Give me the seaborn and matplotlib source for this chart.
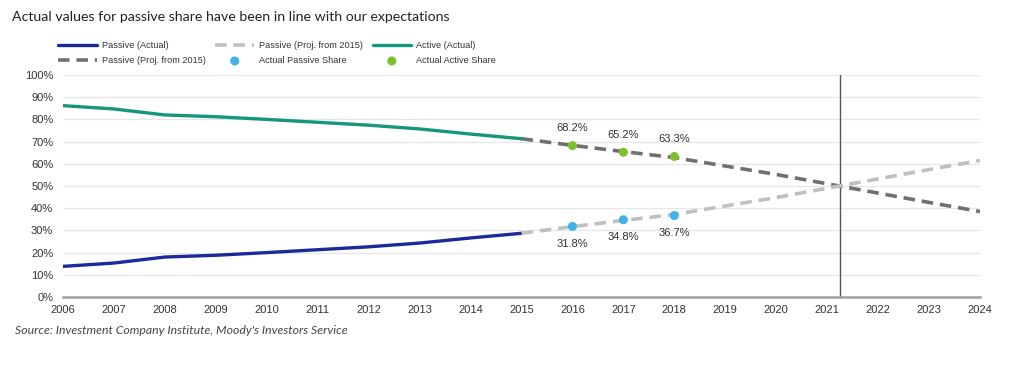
import numpy as np
import pandas as pd
import matplotlib
matplotlib.use("Agg")
import matplotlib.pyplot as plt
import seaborn as sns

# ---- data ----
years_actual = [2006, 2007, 2008, 2009, 2010, 2011, 2012, 2013, 2014, 2015]
passive_actual = [13.8, 15.3, 18.0, 18.8, 20.0, 21.3, 22.6, 24.3, 26.6, 28.7]
active_actual = [86.2, 84.7, 82.0, 81.2, 80.0, 78.7, 77.4, 75.7, 73.4, 71.3]

years_proj = [2015, 2016, 2017, 2018, 2019, 2020, 2021, 2022, 2023, 2024]
passive_proj = [28.7, 31.7, 34.5, 37.2, 41.0, 44.8, 49.0, 53.2, 57.4, 61.5]
active_proj = [71.3, 68.3, 65.5, 62.8, 59.0, 55.2, 51.0, 46.8, 42.6, 38.5]

years_points = [2016, 2017, 2018]
passive_share = [31.8, 34.8, 36.7]
active_share = [68.2, 65.2, 63.3]

crossover_year = 2021.25

title = "Actual values for passive share have been in line with our expectations"
source = "Source: Investment Company Institute, Moody's Investors Service"

# ---- style ----
sns.set_theme(style="white")
plt.rcParams["font.family"] = ["Liberation Sans", "DejaVu Sans"]

C_PASSIVE = "#1b2a9a"
C_ACTIVE = "#16967a"
C_LIGHT = "#c0c0c0"
C_DARK = "#707070"
C_PPTS = "#3fb3e8"
C_APTS = "#7bc12c"
TXT = "#333333"

fig = plt.figure(figsize=(10.24, 3.74), dpi=100)
ax = fig.add_axes([63 / 1024, 77 / 374, (980 - 63) / 1024, (297 - 75) / 374])

df_act = pd.DataFrame({"year": years_actual, "passive": passive_actual, "active": active_actual})
df_proj = pd.DataFrame({"year": years_proj, "passive": passive_proj, "active": active_proj})
df_pts = pd.DataFrame({"year": years_points, "passive": passive_share, "active": active_share})

DASH = [3.2, 1.9]
sns.lineplot(data=df_act, x="year", y="passive", ax=ax, color=C_PASSIVE, lw=2.4,
             label="Passive (Actual)", zorder=3)
sns.lineplot(data=df_proj, x="year", y="active", ax=ax, color=C_DARK, lw=2.6,
             label="Passive (Proj. from 2015)", zorder=3)
ax.lines[-1].set_dashes(DASH)
sns.lineplot(data=df_proj, x="year", y="passive", ax=ax, color=C_LIGHT, lw=2.6,
             label="Passive (Proj. from 2015)", zorder=3)
ax.lines[-1].set_dashes(DASH)
sns.scatterplot(data=df_pts, x="year", y="passive", ax=ax, color=C_PPTS, s=42,
                edgecolor="none", label="Actual Passive Share", zorder=5)
sns.lineplot(data=df_act, x="year", y="active", ax=ax, color=C_ACTIVE, lw=2.4,
             label="Active (Actual)", zorder=3)
sns.scatterplot(data=df_pts, x="year", y="active", ax=ax, color=C_APTS, s=42,
                edgecolor="none", label="Actual Active Share", zorder=5)

ax.axvline(crossover_year, color="#555555", lw=1.0, zorder=2)

for x, y in zip(years_points, active_share):
    ax.annotate(f"{y:.1f}%", (x, y), xytext=(0, 9), textcoords="offset points",
                ha="center", va="bottom", fontsize=8, color=TXT)
for x, y in zip(years_points, passive_share):
    ax.annotate(f"{y:.1f}%", (x, y), xytext=(0, -9), textcoords="offset points",
                ha="center", va="top", fontsize=8, color=TXT)

ax.set_xlim(2006, 2024)
ax.set_ylim(0, 100)
ax.set_xticks(range(2006, 2025))
ax.set_yticks(range(0, 101, 10))
ax.set_yticklabels([f"{v}%" for v in range(0, 101, 10)])
ax.tick_params(axis="both", labelsize=8, colors=TXT, length=0)
ax.tick_params(axis="x", pad=6)
ax.tick_params(axis="y", pad=7)
ax.set_xlabel("")
ax.set_ylabel("")
ax.grid(axis="y", color="#e6e6e6", lw=0.9)
ax.grid(axis="x", visible=False)
for s in ["top", "right", "left"]:
    ax.spines[s].set_visible(False)
ax.spines["bottom"].set_color("#a0a0a0")
ax.spines["bottom"].set_linewidth(1.8)

handles, labels = ax.get_legend_handles_labels()
ax.get_legend().remove()
leg = fig.legend(handles, labels, ncol=3, loc="upper left",
                 bbox_to_anchor=(52 / 1024, 1 - 35 / 374), frameon=False,
                 fontsize=6.6, handlelength=4.2, columnspacing=1.1,
                 handletextpad=0.5, labelspacing=0.65, borderpad=0.2)
for t in leg.get_texts():
    t.set_color(TXT)

fig.text(12 / 1024, 1 - 17 / 374, title, fontsize=10.2, color="#222222",
         family=["Lato", "DejaVu Sans"], va="center", ha="left")
fig.text(15 / 1024, 1 - 330 / 374, source, fontsize=8.8, color="#444444",
         style="italic", family=["Lato", "DejaVu Sans"], va="center", ha="left")

fig.savefig("out.png", dpi=100)
